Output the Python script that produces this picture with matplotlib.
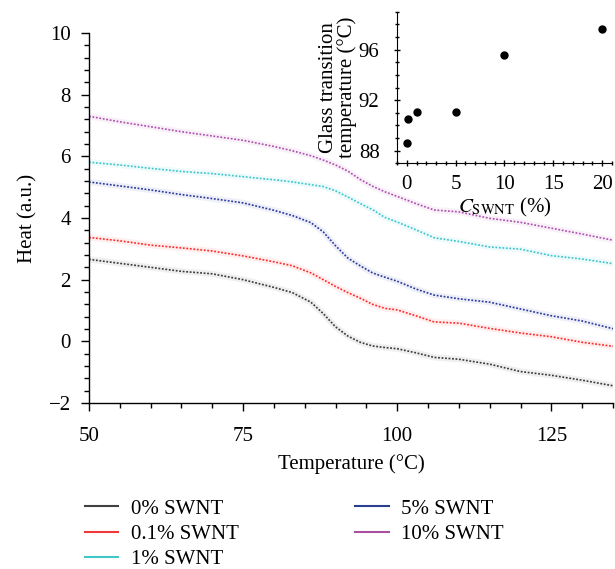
import matplotlib
matplotlib.use("Agg")
import matplotlib.pyplot as plt
from matplotlib.ticker import MultipleLocator
from matplotlib.lines import Line2D

plt.rcParams['font.family'] = ['Liberation Serif', 'DejaVu Serif']
plt.rcParams['mathtext.fontset'] = 'stix'

# ---- data ----
temperature = [50, 55, 60, 65, 70, 75, 80, 83, 86, 88, 90, 92, 94, 96, 98, 100,
               103, 106, 110, 115, 120, 125, 130, 135]
heat_0 = [2.66, 2.53, 2.40, 2.27, 2.19, 2.00, 1.75, 1.58, 1.27, 0.90, 0.47, 0.17,
          -0.03, -0.15, -0.20, -0.24, -0.37, -0.52, -0.58, -0.74, -0.98, -1.10, -1.26, -1.44]
heat_01 = [3.37, 3.26, 3.12, 3.03, 2.93, 2.77, 2.58, 2.45, 2.22, 2.00, 1.78, 1.58,
           1.40, 1.20, 1.07, 1.02, 0.83, 0.63, 0.59, 0.42, 0.27, 0.15, -0.03, -0.16]
heat_1 = [5.81, 5.72, 5.61, 5.51, 5.44, 5.34, 5.24, 5.17, 5.08, 5.02, 4.88, 4.68,
          4.47, 4.27, 4.02, 3.87, 3.62, 3.36, 3.24, 3.06, 2.99, 2.78, 2.67, 2.52]
heat_5 = [5.17, 5.04, 4.91, 4.76, 4.63, 4.49, 4.25, 4.08, 3.85, 3.55, 3.10, 2.70,
          2.45, 2.22, 2.08, 1.95, 1.70, 1.50, 1.38, 1.27, 1.05, 0.83, 0.66, 0.41]
heat_10 = [7.30, 7.12, 6.96, 6.80, 6.66, 6.52, 6.32, 6.18, 6.02, 5.88, 5.72, 5.52,
           5.25, 5.03, 4.85, 4.70, 4.47, 4.26, 4.20, 3.99, 3.86, 3.67, 3.48, 3.28]

series_labels = ['0% SWNT', '0.1% SWNT', '1% SWNT', '5% SWNT', '10% SWNT']
series_colors = ['#3a3a3a', '#ff2b2b', '#3cc6cc', '#2b3a9e', '#b050b0']
legend_colors = ['#404040', '#f03838', '#40c8c8', '#2a3f8f', '#a8509f']

conc = [0, 0.1, 1, 5, 10, 20]
tg = [88.6, 90.5, 91.1, 91.1, 95.6, 97.6]

FS = 15

fig = plt.figure(figsize=(6.15, 5.69), dpi=100)
ax = fig.add_axes([0.1447, 0.2917, 0.852, 0.6503])

all_series = [heat_0, heat_01, heat_1, heat_5, heat_10]
for ys, c in zip(all_series, series_colors):
    ax.plot(temperature, ys, color=c, alpha=0.08, lw=4.5, solid_capstyle='round')
    ax.plot(temperature, ys, color=c, lw=1.2, linestyle=(0, (1.1, 1.0)))

ax.set_xlim(50, 135)
ax.set_ylim(-2, 10)
ax.set_xticks([50, 75, 100, 125])
ax.set_yticks([-2, 0, 2, 4, 6, 8, 10])
ax.set_yticklabels(['\u22122', '0', '2', '4', '6', '8', '10'])
ax.xaxis.set_minor_locator(MultipleLocator(5))
ax.yaxis.set_minor_locator(MultipleLocator(0.4))
for s in ['top', 'right']:
    ax.spines[s].set_visible(False)
for s in ['left', 'bottom']:
    ax.spines[s].set_linewidth(1.0)
ax.tick_params(which='major', direction='out', length=6, width=1.0, labelsize=FS, pad=7)
ax.tick_params(axis='x', which='major', pad=11)
ax.tick_params(which='minor', direction='out', length=3.5, width=1.0)
ax.set_xlabel('Temperature (°C)', fontsize=FS, labelpad=6)
ax.set_ylabel('Heat (a.u.)', fontsize=FS, labelpad=8)

# inset
ax2 = fig.add_axes([0.6455, 0.713, 0.3495, 0.2664])
ax2.plot(conc, tg, 'o', color='black', markersize=5)
ax2.set_xlim(-1, 21)
ax2.set_ylim(87, 99)
ax2.set_xticks([0, 5, 10, 15, 20])
ax2.set_yticks([88, 92, 96])
ax2.xaxis.set_minor_locator(MultipleLocator(1))
ax2.yaxis.set_minor_locator(MultipleLocator(1))
for s in ['top', 'right']:
    ax2.spines[s].set_visible(False)
ax2.patch.set_alpha(0)
ax2.tick_params(which='major', direction='inout', length=5, width=1.0, labelsize=FS)
ax2.tick_params(axis='y', which='major', pad=10)
ax2.tick_params(axis='x', which='major', pad=6)
ax2.tick_params(which='minor', direction='inout', length=3, width=1.0)
ax2.set_xlabel(r'$C_{\mathrm{SWNT}}$ (%)', fontsize=FS, labelpad=1)
ax2.set_ylabel('Glass transition\ntemperature (°C)', fontsize=FS, labelpad=1, linespacing=0.95)

handles = [Line2D([], [], color=c, lw=1.5) for c in legend_colors]
fig.legend(handles, series_labels,
           ncol=2, loc='upper left', bbox_to_anchor=(0.138, 0.123),
           frameon=False, fontsize=FS, handlelength=1.6, handletextpad=0.6,
           columnspacing=5.6, labelspacing=0.27, borderaxespad=0, borderpad=0)

fig.savefig('out.png', dpi=100)
